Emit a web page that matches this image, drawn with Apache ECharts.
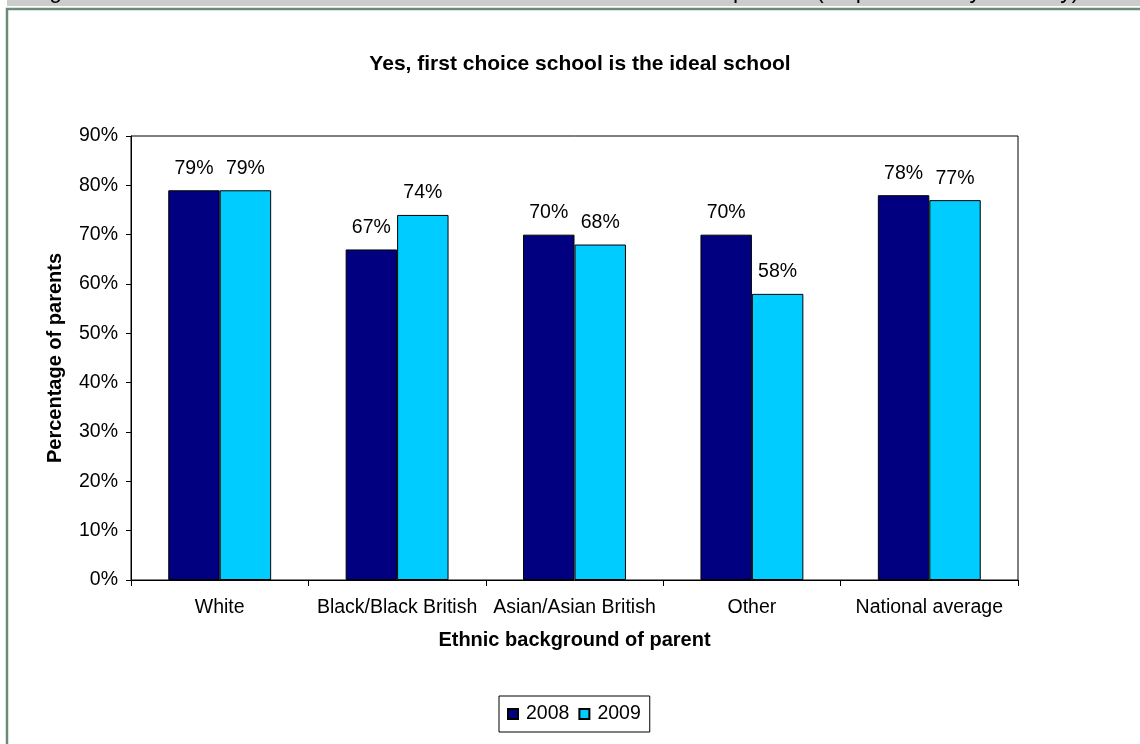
<!DOCTYPE html>
<html>
<head>
<meta charset="utf-8">
<script src="https://cdn.jsdelivr.net/npm/echarts@6/dist/echarts.min.js"></script>
<style>
  html, body { margin: 0; padding: 0; background: #ffffff; }
  #chart { width: 1140px; height: 744px; }
</style>
</head>
<body>
<div id="chart"></div>
<script>
// Share of parents saying their first choice school is the ideal school
const categories = ['White', 'Black/Black British', 'Asian/Asian British', 'Other', 'National average'];
const values2008 = [79, 67, 70, 70, 78];
const values2009 = [79, 74, 68, 58, 77];
const seriesNames = ['2008', '2009'];
const yTicks = [0, 10, 20, 30, 40, 50, 60, 70, 80, 90];

const FONT = '"Liberation Sans", Arial, sans-serif';
const LABEL_SIZE = 19.5;
const NAME_SIZE = 20;

const chart = echarts.init(document.getElementById('chart'), null, { renderer: 'canvas' });

function barSeries(name, data, color) {
  return {
    name: name,
    type: 'bar',
    data: data,
    barGap: '0%',
    barCategoryGap: '42%',
    itemStyle: { color: color, borderColor: '#000000', borderWidth: 1 },
    label: {
      show: true,
      position: 'top',
      distance: 12,
      formatter: '{c}%',
      color: '#000000',
      fontFamily: FONT,
      fontSize: LABEL_SIZE
    },
    emphasis: { disabled: true }
  };
}

chart.setOption({
  animation: false,
  backgroundColor: '#ffffff',
  textStyle: { fontFamily: FONT, color: '#000000' },
  title: {
    text: 'Yes, first choice school is the ideal school',
    left: 575,
    textAlign: 'center',
    top: 49,
    textStyle: { fontFamily: FONT, fontSize: 21, fontWeight: 'bold', color: '#000000' }
  },
  legend: {
    data: seriesNames,
    left: 499,
    top: 696,
    icon: 'rect',
    itemWidth: 10,
    itemHeight: 10,
    itemGap: 9,
    padding: [8, 9, 8, 8],
    borderColor: '#000000',
    borderWidth: 1,
    textStyle: { fontFamily: FONT, fontSize: LABEL_SIZE, color: '#000000', padding: [0, 0, 0, 3] }
  },
  grid: {
    left: 131,
    right: 122,
    top: 136,
    bottom: 164,
    show: true,
    borderColor: '#000000',
    borderWidth: 1,
    backgroundColor: 'transparent'
  },
  xAxis: {
    type: 'category',
    data: categories,
    name: 'Ethnic background of parent',
    nameLocation: 'middle',
    nameGap: 50,
    nameTextStyle: { fontFamily: FONT, fontSize: NAME_SIZE, fontWeight: 'bold', color: '#000000' },
    axisLine: { show: true, lineStyle: { color: '#000000', width: 1 } },
    axisTick: { show: true, interval: 0, alignWithLabel: false, length: 6, lineStyle: { color: '#000000' } },
    axisLabel: { interval: 0, margin: 18, fontFamily: FONT, fontSize: LABEL_SIZE, color: '#000000' },
    splitLine: { show: false }
  },
  yAxis: {
    type: 'value',
    min: yTicks[0],
    max: yTicks[yTicks.length - 1],
    interval: 10,
    name: 'Percentage of parents',
    nameLocation: 'middle',
    nameGap: 66,
    nameRotate: 90,
    nameTextStyle: { fontFamily: FONT, fontSize: NAME_SIZE, fontWeight: 'bold', color: '#000000' },
    axisLine: { show: true, lineStyle: { color: '#000000', width: 1 } },
    axisTick: { show: true, inside: false, length: 5, lineStyle: { color: '#000000' } },
    axisLabel: { formatter: '{value}%', margin: 13, fontFamily: FONT, fontSize: LABEL_SIZE, color: '#000000' },
    splitLine: { show: false }
  },
  series: [
    barSeries(seriesNames[0], values2008, '#000080'),
    barSeries(seriesNames[1], values2009, '#00ccff')
  ],
  graphic: [
    // heading strip of the page with its caption mostly scrolled off the top
    { type: 'rect', left: 7, top: 0, shape: { width: 1133, height: 6 }, style: { fill: '#cccccc' }, silent: true },
    { type: 'text', x: 30, y: -8, style: { text: 'Figure 18: Whether first choice school is the ideal school in 2008 and 2009 for all the', font: '23px ' + FONT, fill: '#000000', verticalAlign: 'middle' }, silent: true },
    { type: 'text', x: 733, y: -8, style: { text: 'parents (respondents by ethnicity)', font: '23px ' + FONT, fill: '#000000', verticalAlign: 'middle' }, silent: true },
    // outer frame around the chart
    { type: 'polyline', shape: { points: [[7, 744], [7, 9], [1140, 9]] }, style: { stroke: '#6b8a78', lineWidth: 2.5, fill: null }, silent: true }
  ]
});
</script>
</body>
</html>
